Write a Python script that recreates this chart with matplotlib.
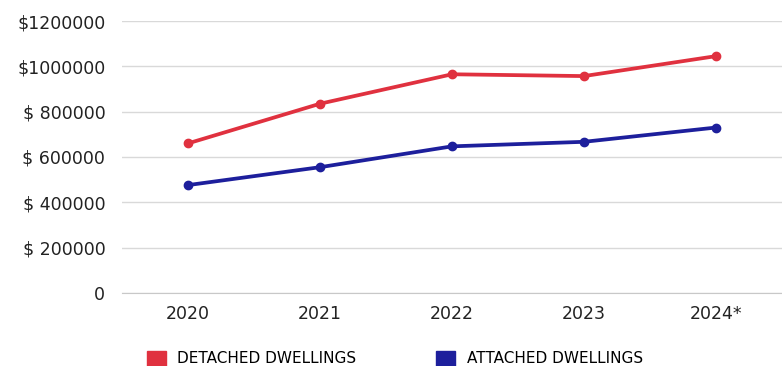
import matplotlib
matplotlib.use('Agg')
import matplotlib.pyplot as plt
from matplotlib.patches import Patch

years = ['2020', '2021', '2022', '2023', '2024*']
detached = [660000, 835000, 965000, 957000, 1045000]
attached = [476000, 555000, 647000, 667000, 730000]
y_ticks = [0, 200000, 400000, 600000, 800000, 1000000, 1200000]
y_labels = ['0', '$ 200000', '$ 400000', '$ 600000', '$ 800000', '$1000000', '$1200000']

red = '#e0313f'
blue = '#1d1f9c'

plt.rcParams['font.family'] = ['DejaVu Sans']

fig = plt.figure(figsize=(7.82, 3.66), dpi=100)
ax = fig.add_axes([0.156, 0.1995, 0.844, 0.7431])

x = range(len(years))
ax.plot(x, detached, color=red, lw=2.7, marker='o', ms=6, solid_capstyle='round')
ax.plot(x, attached, color=blue, lw=2.7, marker='o', ms=6, solid_capstyle='round')

ax.set_xlim(-0.5, 4.5)
ax.set_ylim(0, 1200000)
ax.set_xticks(list(x))
ax.set_xticklabels(years, fontsize=12.5, color='#222222')
ax.set_yticks(y_ticks)
ax.set_yticklabels(y_labels, fontsize=12.5, color='#222222')
ax.tick_params(axis='both', length=0)
ax.tick_params(axis='y', pad=12)
ax.tick_params(axis='x', pad=9)
ax.grid(axis='y', color='#d9d9d9', lw=1)
ax.set_axisbelow(True)
for s in ['top', 'right', 'left']:
    ax.spines[s].set_visible(False)
ax.spines['bottom'].set_color('#c8c8c8')

handles = [Patch(color=red, label='DETACHED DWELLINGS'),
           Patch(color=blue, label='ATTACHED DWELLINGS')]
fig.legend(handles=handles, loc='center left', bbox_to_anchor=(0.178, 0.02),
           ncol=2, frameon=False, fontsize=11, handlelength=1.25, handleheight=1.1,
           columnspacing=5.2, handletextpad=0.75, borderpad=0)

fig.savefig('out.png', dpi=100, facecolor='white')
